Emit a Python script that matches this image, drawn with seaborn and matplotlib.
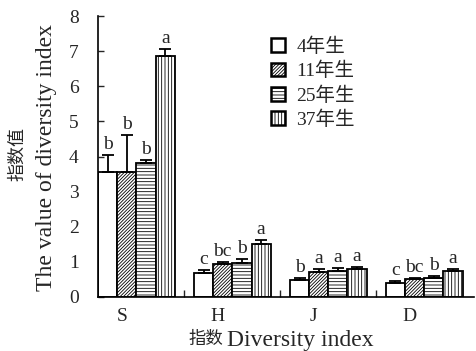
import numpy as np
import pandas as pd
import matplotlib
matplotlib.use("Agg")
import matplotlib.pyplot as plt
import seaborn as sns

# Diversity indices and stand ages
indices = ["S", "H", "J", "D"]
ages = ["4年生", "11年生", "25年生", "37年生"]

# Mean values, one list per stand age (S, H, J, D)
mean_4 = [3.57, 0.68, 0.48, 0.39]
mean_11 = [3.57, 0.93, 0.70, 0.50]
mean_25 = [3.82, 0.98, 0.74, 0.55]
mean_37 = [6.87, 1.51, 0.80, 0.75]

# Standard errors
err_4 = [0.47, 0.09, 0.07, 0.06]
err_11 = [1.05, 0.06, 0.09, 0.04]
err_25 = [0.09, 0.10, 0.08, 0.05]
err_37 = [0.20, 0.11, 0.05, 0.06]

# Significance letters
sig_4 = ["b", "c", "b", "c"]
sig_11 = ["b", "bc", "a", "bc"]
sig_25 = ["b", "b", "a", "b"]
sig_37 = ["a", "a", "a", "a"]

means = [mean_4, mean_11, mean_25, mean_37]
errs = [err_4, err_11, err_25, err_37]
sigs = [sig_4, sig_11, sig_25, sig_37]
hatches = ["", "//////////", "-----", "|||||"]

rows = []
for a, m in zip(ages, means):
    for idx, v in zip(indices, m):
        rows.append({"index": idx, "age": a, "value": v})
df = pd.DataFrame(rows)

sns.set_style("ticks")
plt.rcParams["font.family"] = ["Liberation Serif", "Noto Sans CJK SC"]
plt.rcParams["hatch.linewidth"] = 0.6
plt.rcParams["hatch.color"] = "black"

fig = plt.figure(figsize=(4.76, 3.51), dpi=100)
ax = fig.add_axes([0.206, 0.154, 0.79, 0.80])

sns.barplot(data=df, x="index", y="value", hue="age", order=indices,
            hue_order=ages, color="white", edgecolor="black", linewidth=1.3,
            errorbar=None, width=0.8, ax=ax, legend=True, saturation=1)

for cont, h, e, s in zip(ax.containers, hatches, errs, sigs):
    xs = []
    ys = []
    for bar in cont:
        bar.set_facecolor("white")
        bar.set_hatch(h)
        xs.append(bar.get_x() + bar.get_width() / 2)
        ys.append(bar.get_height())
    ax.errorbar(xs, ys, yerr=[np.zeros(len(e)), e], fmt="none",
                ecolor="black", elinewidth=1.3, capsize=4.5, capthick=1.3,
                zorder=3)
    for x, y, ee, lab in zip(xs, ys, e, s):
        ax.text(x, y + ee + 0.05, lab, ha="center", va="bottom", fontsize=14)

ax.set_xlim(-0.4, 3.52)
ax.set_ylim(0, 8)
ax.set_yticks(range(0, 9))
ax.tick_params(axis="y", direction="in", length=4, width=1, labelsize=14, pad=14)

# group separators on the x axis, labels placed under each group
ax.set_xticks([0.5, 1.5, 2.5])
ax.set_xticklabels([])
ax.tick_params(axis="x", which="major", direction="in", length=5, width=1)
ax.set_xticks([i - 0.15 for i in range(4)], minor=True)
ax.set_xticklabels(indices, minor=True, fontsize=14)
ax.tick_params(axis="x", which="minor", length=0, pad=8)

sns.despine(ax=ax)
for sp in ["left", "bottom"]:
    ax.spines[sp].set_linewidth(1.2)
    ax.spines[sp].set_color("black")

# axis titles: Chinese and English parts
ax.set_xlabel("")
ax.set_ylabel("")
fig.text(0.038, 0.56, "指数值", rotation=90, ha="center", va="center",
         fontsize=13)
fig.text(0.097, 0.55, "The value of diversity index", rotation=90,
         ha="center", va="center", fontsize=17)
fig.text(0.468, 0.031, "指数", ha="right", va="center", fontsize=12.5)
fig.text(0.477, 0.031, "Diversity index", ha="left", va="center", fontsize=17)

handles, labels = ax.get_legend_handles_labels()
for hd, h in zip(handles, hatches):
    hd.set_hatch(h)
    hd.set_facecolor("white")
    hd.set_edgecolor("black")
    hd.set_linewidth(1.8)
ax.legend(handles, labels, loc="upper left", bbox_to_anchor=(0.553, 0.915),
          bbox_transform=fig.transFigure, frameon=False, fontsize=14,
          handlelength=0.7, handleheight=0.7, handletextpad=0.6,
          labelspacing=0.3, borderaxespad=0)

fig.savefig("out.png", dpi=100)
